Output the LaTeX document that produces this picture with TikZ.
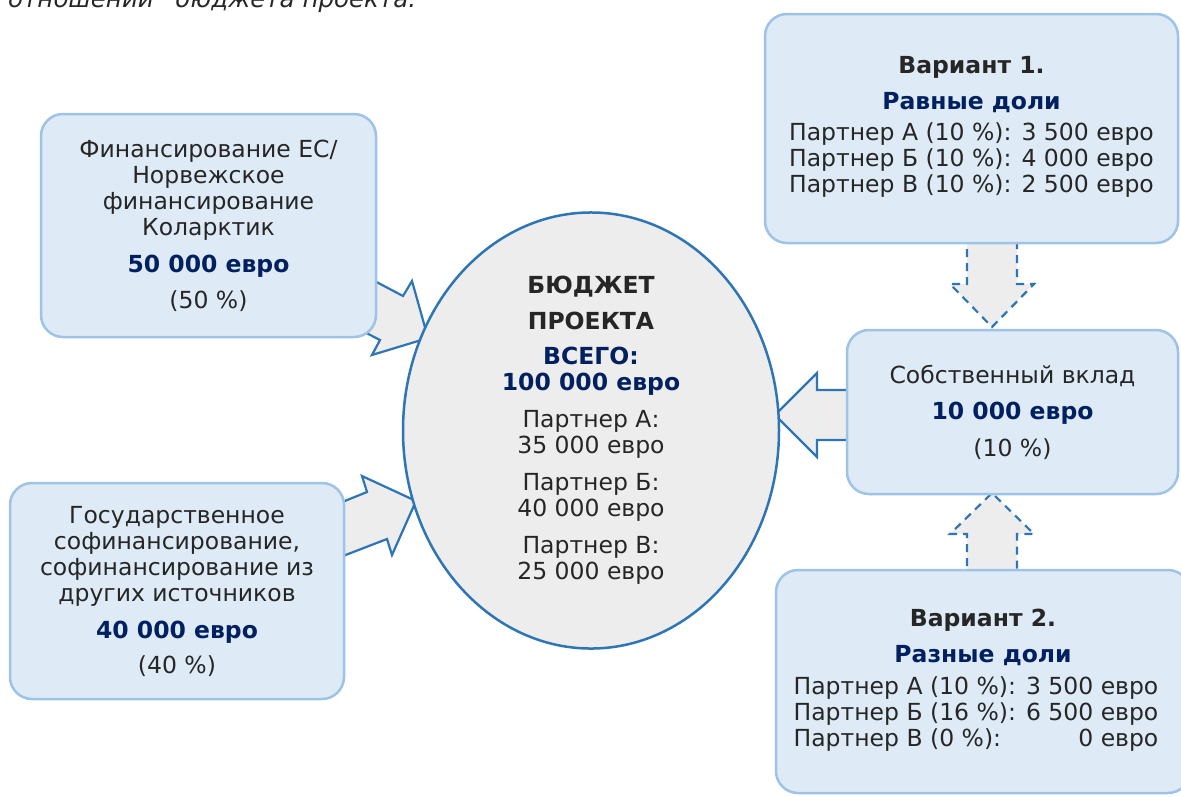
\documentclass[tikz,border=0pt]{standalone}
\usepackage{fontspec}
\setmainfont{DejaVu Sans}
\usepackage{xcolor}
\usetikzlibrary{shapes.geometric,positioning}
\definecolor{boxfill}{RGB}{222,235,247}
\definecolor{boxline}{RGB}{157,195,230}
\definecolor{ovalfill}{RGB}{237,237,237}
\definecolor{ovalline}{RGB}{46,117,182}
\definecolor{navytext}{RGB}{0,32,96}
\definecolor{darktext}{RGB}{38,38,38}
\newcommand{\sumtext}[1]{\textcolor{navytext}{\textbf{#1}}}

\begin{document}
\begin{tikzpicture}[
  x=1pt, y=-1pt,
  every node/.style={text=darktext, font=\fontsize{23.5}{26}\selectfont},
  box/.style={
    rectangle, rounded corners=22pt,
    draw=boxline, fill=boxfill, line width=2.5pt,
    align=center, inner sep=0pt
  },
  budget/.style={
    ellipse, draw=ovalline, fill=ovalfill, line width=2.5pt,
    minimum width=376pt, minimum height=397pt,
    align=center, inner sep=0pt
  },
  blockarrow/.style={draw=ovalline, fill=ovalfill, line width=2.2pt, line join=miter},
  optarrow/.style={blockarrow, dash pattern=on 8pt off 6pt}
]
  \useasboundingbox (0,0) rectangle (1181,796);
  \clip (0,0) rectangle (1181,796);

  % cut-off caption line
  \node[anchor=base west, inner sep=0pt, font=\fontsize{24.5}{26}\selectfont\itshape]
    (caption) at (8,7) {отношении\hspace{14pt} бюджета проекта.};

  % block arrows (behind the boxes)
  \draw[blockarrow] (350,268) -- (403,296) -- (412,281) -- (428,338)
    -- (372,355) -- (380,340) -- (345,322) -- cycle;
  \draw[blockarrow] (330,507) -- (367,492) -- (362,476) -- (416,501)
    -- (392,555) -- (387,539) -- (330,561) -- cycle;
  \draw[blockarrow] (860,390) -- (817,390) -- (817,373) -- (775,415)
    -- (817,457) -- (817,440) -- (860,440) -- cycle;
  \draw[optarrow] (967,235) -- (967,284) -- (950,284) -- (992,327)
    -- (1034,284) -- (1017,284) -- (1017,235);
  \draw[optarrow] (967,580) -- (967,534) -- (950,534) -- (992,493)
    -- (1034,534) -- (1017,534) -- (1017,580);

  % sources
  \node[box, minimum width=335pt, minimum height=223pt] (eu) at (208.5,225.5)
    {Финансирование ЕС/\\ Норвежское\\ финансирование\\ Коларктик\\[11pt]
     \sumtext{50 000 евро}\\[10pt] (50 \%)};
  \node[box, minimum width=334pt, minimum height=216pt] (cofin) at (177,591)
    {Государственное\\ софинансирование,\\ софинансирование из\\ других источников\\[11pt]
     \sumtext{40 000 евро}\\[9pt] (40 \%)};

  % project budget
  \node[budget] (total) at (591,430.5)
    {\textbf{БЮДЖЕТ}\\[10pt] \textbf{ПРОЕКТА}\\[9pt] \sumtext{ВСЕГО:}\\ \sumtext{100 000 евро}\\[11pt]
     Партнер А:\\ 35 000 евро\\[11pt] Партнер Б:\\ 40 000 евро\\[11pt] Партнер В:\\ 25 000 евро};

  % own contribution and variants
  \node[box, minimum width=331pt, minimum height=164pt] (own) at (1012.5,412)
    {Собственный вклад\\[10pt] \sumtext{10 000 евро}\\[11pt] (10 \%)};
  \node[box, minimum width=413pt, minimum height=229pt] (var1) at (971.5,128.5)
    {\textbf{Вариант 1.}\\[10pt] \sumtext{Равные доли}\\[9pt]
     \begin{tabular}{@{}l@{\hspace{10pt}}r@{}}
       Партнер А (10 \%): & 3 500 евро\\
       Партнер Б (10 \%): & 4 000 евро\\
       Партнер В (10 \%): & 2 500 евро
     \end{tabular}};
  \node[box, minimum width=414pt, minimum height=223pt] (var2) at (983,681.5)
    {\textbf{Вариант 2.}\\[10pt] \sumtext{Разные доли}\\[9pt]
     \begin{tabular}{@{}l@{\hspace{10pt}}r@{\hspace{14pt}}}
       Партнер А (10 \%): & 3 500 евро\\
       Партнер Б (16 \%): & 6 500 евро\\
       Партнер В (0 \%): & 0 евро
     \end{tabular}};
\end{tikzpicture}
\end{document}
